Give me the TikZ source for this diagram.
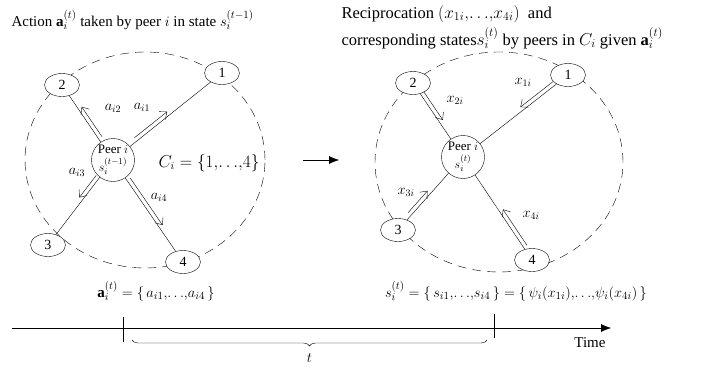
\documentclass[tikz,border=0pt]{standalone}
\usepackage{fontspec}
\setmainfont{Liberation Serif}
\usetikzlibrary{shapes.geometric,calc,arrows.meta,decorations.pathreplacing}

\begin{document}
\begin{tikzpicture}[
  x=1pt, y=-1pt,
  font=\fontsize{14}{16}\selectfont,
  peer/.style={draw, circle, fill=white, minimum size=43pt, inner sep=0pt, align=center, font=\fontsize{13}{12}\selectfont},
  nbr/.style={draw, ellipse, fill=white, minimum width=35pt, minimum height=23pt, inner sep=0pt},
  group/.style={draw, dash pattern=on 9pt off 6pt},
  link/.style={-},
  flow/.style={-{Straight Barb[length=6pt,width=10pt]}},
  lbl/.style={inner sep=0pt},
  big/.style={font=\fontsize{15}{17}\selectfont}
]
\useasboundingbox (0,0) rectangle (716,375);

% titles
\node[anchor=west, big] (ttlL) at (8,20) {Action $\mathbf{a}_i^{(t)}$ taken by peer $i$ in state $s_i^{(t-1)}$};
\node[anchor=west, align=left, font=\fontsize{16.5}{18}\selectfont] (ttlR) at (338,27) {Reciprocation $(x_{1i}{,}{\ldots}{,}x_{4i})$\ \ and\\[4pt]
  corresponding states$s_i^{(t)}$ by peers in $C_i$ given $\mathbf{a}_i^{(t)}$};

% left: actions
\draw[group] (145,160) ellipse [x radius=120pt, y radius=108pt];
\node[peer] (pL) at (113,160) {Peer $i$\\[3pt]$s_i^{(t-1)}$};
\node[nbr] (l1) at (222,73) {1};
\node[nbr] (l2) at (62,85) {2};
\node[nbr] (l3) at (48,245) {3};
\node[nbr] (l4) at (183,262) {4};
\foreach \n in {l1,l2,l3,l4}
  \draw[link] (pL) -- (\n);
\node[font=\fontsize{16}{18}\selectfont] (cset) at (209,163) {$C_i=\Bigl\{1{,}{\ldots}{,}4\Bigr\}$};

\path (pL.center) -- (l1.center) coordinate[pos=0.22] (a1s) coordinate[pos=0.52] (a1e);
\path (pL.center) -- (l2.center) coordinate[pos=0.28] (a2s) coordinate[pos=0.68] (a2e);
\path (pL.center) -- (l3.center) coordinate[pos=0.21] (a3s) coordinate[pos=0.47] (a3e);
\path (pL.center) -- (l4.center) coordinate[pos=0.20] (a4s) coordinate[pos=0.66] (a4e);
\draw[flow] ($(a1s)!4pt!90:(a1e)$) -- ($(a1e)!4pt!-90:(a1s)$);
\draw[flow] ($(a2s)!4pt!-90:(a2e)$) -- ($(a2e)!4pt!90:(a2s)$);
\draw[flow] ($(a3s)!4pt!-90:(a3e)$) -- ($(a3e)!4pt!90:(a3s)$);
\draw[flow] ($(a4s)!4pt!90:(a4e)$) -- ($(a4e)!4pt!-90:(a4s)$);
\node[lbl] (la1) at (142,107) {$a_{i1}$};
\node[lbl] (la2) at (113,108) {$a_{i2}$};
\node[lbl] (la3) at (77,172) {$a_{i3}$};
\node[lbl] (la4) at (159,197) {$a_{i4}$};

\node[big] (actset) at (156,291) {$\mathbf{a}_i^{(t)}=\Bigl\{\,a_{i1}{,}{\ldots}{,}a_{i4}\,\Bigr\}$};

% step arrow
\coordinate (go1) at (303,160);
\coordinate (go2) at (339,160);
\draw[-{Latex[length=10pt,width=8pt]}] (go1) -- (go2);

% right: reciprocation
\draw[group] (499,162) ellipse [x radius=124pt, y radius=110pt];
\node[peer] (pR) at (463,157) {Peer $i$\\[3pt]$s_i^{(t)}$};
\node[nbr] (r1) at (568,75) {1};
\node[nbr] (r2) at (413,83) {2};
\node[nbr] (r3) at (398,230) {3};
\node[nbr] (r4) at (532,260) {4};
\foreach \n in {r1,r2,r3,r4}
  \draw[link] (pR) -- (\n);

\path (r1.center) -- (pR.center) coordinate[pos=0.12] (x1s) coordinate[pos=0.43] (x1e);
\path (r2.center) -- (pR.center) coordinate[pos=0.15] (x2s) coordinate[pos=0.53] (x2e);
\path (r3.center) -- (pR.center) coordinate[pos=0.20] (x3s) coordinate[pos=0.50] (x3e);
\path (r4.center) -- (pR.center) coordinate[pos=0.12] (x4s) coordinate[pos=0.47] (x4e);
\draw[flow] ($(x1s)!4pt!-90:(x1e)$) -- ($(x1e)!4pt!90:(x1s)$);
\draw[flow] ($(x2s)!4pt!90:(x2e)$) -- ($(x2e)!4pt!-90:(x2s)$);
\draw[flow] ($(x3s)!4pt!90:(x3e)$) -- ($(x3e)!4pt!-90:(x3s)$);
\draw[flow] ($(x4s)!4pt!-90:(x4e)$) -- ($(x4e)!4pt!90:(x4s)$);
\node[lbl] (lx1) at (523,82) {$x_{1i}$};
\node[lbl] (lx2) at (455,100) {$x_{2i}$};
\node[lbl] (lx3) at (406,192) {$x_{3i}$};
\node[lbl] (lx4) at (531,215) {$x_{4i}$};

\node[big] (stset) at (516,291) {$s_i^{(t)}=\Bigl\{\,s_{i1}{,}{\ldots}{,}s_{i4}\,\Bigr\}=\Bigl\{\,\psi_i(x_{1i}){,}{\ldots}{,}\psi_i(x_{4i})\,\Bigr\}$};

% time line
\coordinate (t0) at (12,328);
\coordinate (t1) at (611,328);
\draw[-{Latex[length=10pt,width=8pt]}] (t0) -- (t1);
\draw (123,317) -- (123,342);
\draw (494,314) -- (494,338);
\node[big] (tlbl) at (590,343) {Time};
\draw[decorate, decoration={brace, mirror, amplitude=6pt}] (132,340) -- (487,340)
  node[midway, below=10pt, big] (tdur) {$t$};
\end{tikzpicture}
\end{document}
